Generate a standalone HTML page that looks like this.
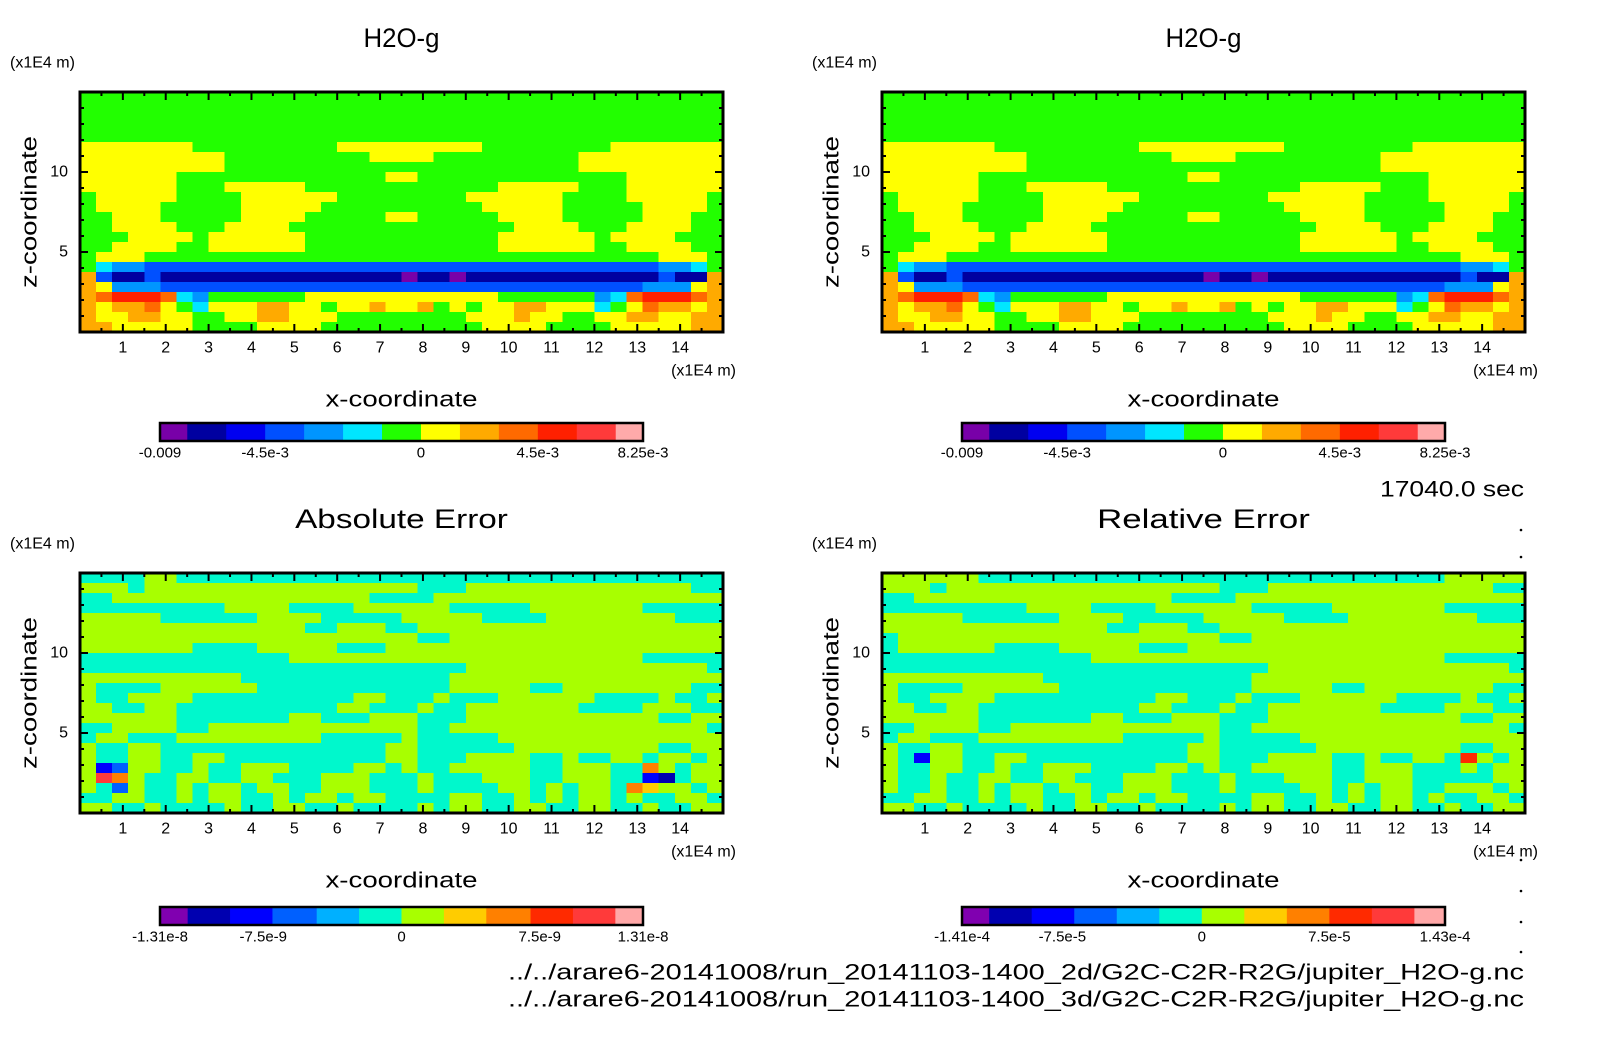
<!DOCTYPE html>
<html><head><meta charset="utf-8">
<style>
html,body{margin:0;padding:0;background:#fff;}
svg{display:block;font-family:"Liberation Sans",sans-serif;}
</style></head>
<body>
<svg id="fig" width="1604" height="1054" viewBox="0 0 1604 1054" xmlns="http://www.w3.org/2000/svg">
<rect width="1604" height="1054" fill="#fff"/>
</svg>
<script>
// ---- data ----
const xDomain = [0, 15];
const zDomain = [0, 15];
const xTickValues = [1,2,3,4,5,6,7,8,9,10,11,12,13,14];
const zTickValues = [5,10];
const topPalette = ['#7800a8','#0000a0','#0000f0','#0050ff','#0095ff','#00e6ff','#22ff00','#ffff00','#ffaa00','#ff6a00','#ff2000','#ff3a3a','#ffaaaa'];
const topBarEdges = [-0.0093,-0.00825,-0.00675,-0.00525,-0.00375,-0.00225,-0.00075,0.00075,0.00225,0.00375,0.00525,0.00675,0.00825,0.0093];
const topBarLabels = ['-0.009','-4.5e-3','0','4.5e-3','8.25e-3'];
const topBarLabelValues = [-0.0093,-0.00525,0.00075,0.00525,0.0093];
const absPalette = ['#8000b0','#0000b0','#0000ff','#0060ff','#00b0ff','#00f8cc','#a8ff00','#ffcc00','#ff8000','#ff2a00','#ff3a3a','#ffa8a8'];
const absBarEdges = [-1.31e-8,-1.16e-8,-0.93e-8,-0.70e-8,-0.46e-8,-0.23e-8,0,0.23e-8,0.46e-8,0.70e-8,0.93e-8,1.16e-8,1.31e-8];
const absBarLabels = ['-1.31e-8','-7.5e-9','0','7.5e-9','1.31e-8'];
const absBarLabelValues = [-1.31e-8,-7.5e-9,0,7.5e-9,1.31e-8];
const relBarEdges = [-1.41e-4,-1.25e-4,-1.0e-4,-7.5e-5,-5.0e-5,-2.5e-5,0,2.5e-5,5.0e-5,7.5e-5,1.0e-4,1.25e-4,1.43e-4];
const relBarLabels = ['-1.41e-4','-7.5e-5','0','7.5e-5','1.43e-4'];
const relBarLabelValues = [-1.41e-4,-8.2e-5,0,7.5e-5,1.43e-4];
const fieldH2O = [
"6666666666666666666666666666666666666666",
"6666666666666666666666666666666666666666",
"6666666666666666666666666666666666666666",
"6666666666666666666666666666666666666666",
"6666666666666666666666666666666666666666",
"7777777666666666777777777666666667777777",
"7777777776666666667777666666666777777777",
"7777777776666666666666666666666777777777",
"7777776666666666666776666666666666777777",
"7777776667777766666666666677777666777777",
"6777776666777777666666667777776666777776",
"6777766666777776666666666777776666677776",
"6677766666777766666776666677776666677766",
"6677776667777666666666666667777666777766",
"6667777677777766666666666677777767777666",
"6677776677777766666666666677777766777766",
"6777666666666666666666666666666666667776",
"6544333333333333333333333333333333334456",
"8311311111111111111101101111111111113118",
"8744433333333333333333333333333333344478",
"89aaa954666666777777777777666666459aaa98",
"8788976577788776778778676778877756798878",
"8778877667788777666666667778776677887788",
"8877777666677776666666666777766667777788"];
const fieldAbs = [
"5555665555555555555555555555555555555555",
"6665666666666666666665556666666666666655",
"5566666666666666665555666666666666666666",
"5555555556666555566666655555666666655555",
"6666655555566665555566666555566666666555",
"6666666666666655666556666666666666666666",
"6666666666666666666665566666666666666666",
"6666666555566666555666666666666666666666",
"5555555555555666666666666666666666655555",
"5555555555555555555555556666666666666665",
"6666666666555555555555566666666666666666",
"6555566666655555555555566666556666666655",
"6556666555555555566555655566666655556556",
"6655665555555555665556556666666555566655",
"6666665555555665556665556666666666665566",
"5566665566666666666665566666666666666665",
"5665556666666665555565555566666666666666",
"6556655555555555555665555556666666665566",
"6556655665555555555665556666556556656656",
"6236655655666555566565566666556665586566",
"6a86556655665556665556555666556665521566",
"6536556566566556665556555566565665876656",
"5566556566556566566555566556565665655665",
"6655655556556655655556566556655665565566"];
const fieldRel = [
"6666665555555555555555555555555555566666",
"6665666666666666666665556666666666666655",
"5566666666666666665555666666666666666666",
"5555555556666555566666655555666666655555",
"6666655555566665555566666555566666666555",
"6666666666666655666556666666666666666666",
"5666666666666666666665566666666666666666",
"5666666555566666555666666666666666666666",
"5555555555555666666666666666666666655555",
"5555555555555555555555556666666666666665",
"6666666666555555555555566666666666666666",
"6555566666655555555555566666556666666655",
"6556666555555555566555655566666655556556",
"6655665555555555665556556666666555566655",
"6666665555555665556665556666666666665566",
"5566665566666666666665566666666666666665",
"5665556666666665555565555566666666666666",
"6556655555555555555665555556666666665566",
"6526655665555555555665556666556556659656",
"6556655655666555566565566666556665556566",
"6556556655665556665556555666556665555566",
"6556556566566556665556555566565665566656",
"5566556566556566566555566556565665655665",
"6655655556556655655556566556655665565566"];
// ---- drawing ----
const NS='http://www.w3.org/2000/svg';
const svg=document.getElementById('fig');
function mk(tag,attrs,parent){const e=document.createElementNS(NS,tag);for(const k in attrs)e.setAttribute(k,attrs[k]);(parent||svg).appendChild(e);return e;}
function txt(s,x,y,size,anchor,parent,extra){const t=mk('text',Object.assign({x:x,y:y,'font-size':size,'text-anchor':anchor||'middle','dominant-baseline':'central',fill:'#000'},extra||{}),parent);t.textContent=s;return t;}
const W=643,H=240;
function panel(name,x0,y0,field,palette,title,barEdges,barLabels,barLabelValues,barY,barLabY){
  const g=mk('g',{});
  
  
  const xs=v=>x0+(v-xDomain[0])/(xDomain[1]-xDomain[0])*W;
  const zs=v=>y0+H-(v-zDomain[0])/(zDomain[1]-zDomain[0])*H;
  const rows=field.length, cols=40;
  const cg=mk('g',{'shape-rendering':'crispEdges'},g);
  
  
  for(let r=0;r<rows;r++){
    for(let c=0;c<cols;c++){
      const ch=field[r][c]||'5';
      const idx=parseInt(ch,16);
      const xa=xs(xDomain[0]+c*(xDomain[1]-xDomain[0])/cols), xb=xs(xDomain[0]+(c+1)*(xDomain[1]-xDomain[0])/cols);
      const za=zs(zDomain[1]-r*(zDomain[1]-zDomain[0])/rows), zb=zs(zDomain[1]-(r+1)*(zDomain[1]-zDomain[0])/rows);
      const cell=mk('rect',{x:xa,y:za,width:xb-xa+0.6,height:zb-za+0.6,fill:palette[idx]},cg);
      
      
    }
  }
  const frame=mk('rect',{x:x0,y:y0,width:W,height:H,fill:'none',stroke:'#000','stroke-width':3},g);
  
  
  let d='';
  for(let v=0.5;v<15;v+=0.5){const X=xs(v);const L=(Math.abs(v-Math.round(v))<1e-6)?8:4;d+=`M${X},${y0+H}v${-L}M${X},${y0}v${L}`;}
  for(let v=1;v<15;v++){const Y=zs(v);const L=(v%5===0)?8:4;d+=`M${x0},${Y}h${L}M${x0+W},${Y}h${-L}`;}
  mk('path',{d:d,stroke:'#000','stroke-width':2,fill:'none'},g);
  xTickValues.forEach(v=>{const t=txt(String(v),xs(v),y0+H+16,16,'middle',g);});
  zTickValues.forEach(v=>{const t=txt(String(v),x0-12,zs(v),16,'end',g);});
  const tt=txt(title,x0+W/2,y0-54,27,'middle',g,{textLength:title.length*15.2,lengthAdjust:'spacingAndGlyphs'});
  
  const u1=txt('(x1E4 m)',x0-70,y0-29,16,'start',g);
  
  const u2=txt('(x1E4 m)',x0+W+13,y0+H+39,16,'end',g);
  
  const xl=txt('x-coordinate',x0+W/2,y0+H+67,22,'middle',g,{textLength:152,lengthAdjust:'spacingAndGlyphs'});
  
  const yl=txt('z-coordinate',0,0,22,'middle',g,{textLength:152,lengthAdjust:'spacingAndGlyphs',transform:`translate(${x0-51},${y0+120}) rotate(-90)`});
  
  const bx0=x0+80,bx1=x0+563;
  const bs=v=>bx0+(v-barEdges[0])/(barEdges[barEdges.length-1]-barEdges[0])*(bx1-bx0);
  const cb=mk('g',{},g);
  
  
  for(let i=0;i<barEdges.length-1;i++){
    const seg=mk('rect',{x:bs(barEdges[i]),y:barY,width:bs(barEdges[i+1])-bs(barEdges[i])+0.5,height:18,fill:palette[i]},cb);
    
    
  }
  mk('rect',{x:bx0,y:barY,width:bx1-bx0,height:18,fill:'none',stroke:'#000','stroke-width':2.5},cb);
  barLabels.forEach((s,i)=>{const t=txt(s,bs(barLabelValues[i]),barLabY,15,'middle',cb);});
}
panel('panel-h2o-2d',80,92,fieldH2O,topPalette,'H2O-g',topBarEdges,topBarLabels,topBarLabelValues,423,453);
panel('panel-h2o-3d',882,92,fieldH2O,topPalette,'H2O-g',topBarEdges,topBarLabels,topBarLabelValues,423,453);
panel('panel-absolute-error',80,573,fieldAbs,absPalette,'Absolute Error',absBarEdges,absBarLabels,absBarLabelValues,907,937);
panel('panel-relative-error',882,573,fieldRel,absPalette,'Relative Error',relBarEdges,relBarLabels,relBarLabelValues,907,937);
const tm=txt('17040.0 sec',1524,489,22,'end',svg,{textLength:144,lengthAdjust:'spacingAndGlyphs'});

const p1=txt('../../arare6-20141008/run_20141103-1400_2d/G2C-C2R-R2G/jupiter_H2O-g.nc',1524,972,22,'end',svg,{textLength:1016,lengthAdjust:'spacingAndGlyphs'});

const p2=txt('../../arare6-20141008/run_20141103-1400_3d/G2C-C2R-R2G/jupiter_H2O-g.nc',1524,999,22,'end',svg,{textLength:1016,lengthAdjust:'spacingAndGlyphs'});

[530,557,860,891,922,952].forEach(y=>{const c=mk('circle',{cx:1521,cy:y,r:1.3,fill:'#000'});});
</script>
</body></html>
